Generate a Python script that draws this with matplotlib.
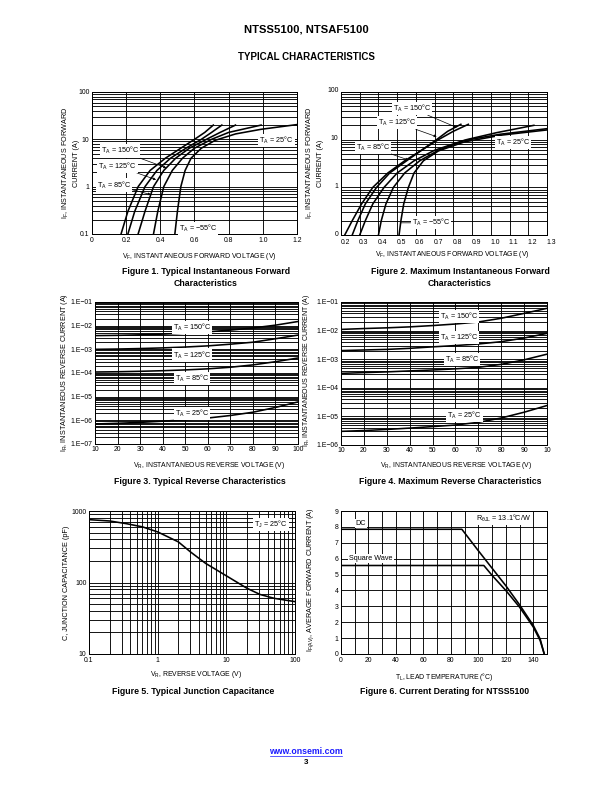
import matplotlib
matplotlib.use('Agg')
import matplotlib.pyplot as plt
from matplotlib.ticker import FixedLocator, FixedFormatter, LogLocator, NullFormatter, MultipleLocator
from matplotlib.lines import Line2D
from matplotlib.transforms import ScaledTranslation

plt.rcParams['font.family'] = ['Liberation Sans', 'DejaVu Sans']
plt.rcParams['mathtext.fontset'] = 'custom'
plt.rcParams['mathtext.rm'] = 'Liberation Sans'
plt.rcParams['mathtext.it'] = 'Liberation Sans:italic'
plt.rcParams['mathtext.bf'] = 'Liberation Sans:bold'
plt.rcParams['mathtext.default'] = 'regular'

# ---------------- data ----------------
# Figure 1: typical forward (V, A)
f1_i = [0.1, 0.3, 1.0, 2.2, 4.0, 6.5, 10, 14, 20]
f1_v150 = [0.17, 0.21, 0.27, 0.34, 0.43, 0.52, 0.60, 0.66, 0.71]
f1_v125 = [0.21, 0.25, 0.31, 0.38, 0.46, 0.55, 0.64, 0.70, 0.76]
f1_v85 = [0.27, 0.31, 0.36, 0.42, 0.49, 0.57, 0.67, 0.75, 0.84]
f1_v25 = [0.36, 0.385, 0.42, 0.47, 0.53, 0.60, 0.70, 0.80, 0.99]
f1_i_m55 = [0.1, 0.3, 1.0, 2.2, 4.0, 6.5, 9.5, 13, 16.3, 20.5]
f1_v_m55 = [0.485, 0.50, 0.52, 0.545, 0.58, 0.64, 0.72, 0.84, 0.99, 1.2]

# Figure 2: maximum forward
f2_i_hi = [0.1, 0.2, 0.45, 1.0, 2.0, 3.6, 6.0, 10, 15, 21]
f2_v150 = [0.22, 0.26, 0.31, 0.37, 0.45, 0.54, 0.63, 0.72, 0.80, 0.88]
f2_v125 = [0.26, 0.29, 0.33, 0.39, 0.46, 0.55, 0.63, 0.71, 0.77, 0.84]
f2_i85 = [0.1, 0.2, 0.45, 1.0, 2.0, 3.6, 6.0, 9.5, 13, 17]
f2_v85 = [0.30, 0.33, 0.37, 0.43, 0.50, 0.59, 0.70, 0.85, 1.05, 1.30]
f2_i25 = [0.1, 0.2, 0.45, 1.0, 2.0, 3.6, 6.0, 10, 14, 20]
f2_v25 = [0.40, 0.415, 0.44, 0.48, 0.54, 0.62, 0.72, 0.87, 1.03, 1.23]
f2_i_m55 = [0.1, 0.2, 0.45, 1.0, 2.0, 3.6, 5.8, 9.0, 12.5, 16]
f2_v_m55 = [0.51, 0.52, 0.535, 0.56, 0.59, 0.64, 0.72, 0.86, 1.06, 1.30]

# Figures 3 & 4: reverse current vs reverse voltage
vr = [10, 20, 30, 40, 50, 60, 70, 80, 90, 100]
f3_150 = [3.8e-3, 3.9e-3, 4.1e-3, 4.4e-3, 4.8e-3, 5.5e-3, 6.5e-3, 8.0e-3, 1.05e-2, 1.5e-2]
f3_125 = [1.0e-3, 1.03e-3, 1.08e-3, 1.15e-3, 1.25e-3, 1.4e-3, 1.65e-3, 2.0e-3, 2.8e-3, 4.0e-3]
f3_85 = [1.1e-4, 1.13e-4, 1.18e-4, 1.25e-4, 1.35e-4, 1.5e-4, 1.75e-4, 2.2e-4, 3.0e-4, 4.3e-4]
f3_25 = [7e-7, 7.5e-7, 8.2e-7, 9.2e-7, 1.05e-6, 1.25e-6, 1.6e-6, 2.2e-6, 3.5e-6, 6e-6]

f4_150 = [1.1e-2, 1.18e-2, 1.25e-2, 1.35e-2, 1.5e-2, 1.7e-2, 2.0e-2, 2.7e-2, 4.0e-2, 6.0e-2]
f4_125 = [2.0e-3, 2.1e-3, 2.2e-3, 2.4e-3, 2.7e-3, 3.0e-3, 3.4e-3, 4.1e-3, 5.5e-3, 8.0e-3]
f4_85 = [3.2e-4, 3.4e-4, 3.6e-4, 3.9e-4, 4.2e-4, 4.6e-4, 5.2e-4, 6.6e-4, 9.5e-4, 1.5e-3]
f4_25 = [3.0e-6, 3.2e-6, 3.5e-6, 3.9e-6, 4.4e-6, 5.0e-6, 6.2e-6, 8.8e-6, 1.4e-5, 2.4e-5]

# Figure 5: junction capacitance
f5_v = [0.1, 0.2, 0.35, 0.6, 1.0, 2.0, 3.0, 5.0, 7.2, 10, 20, 31, 50, 100]
f5_c = [757, 725, 665, 600, 510, 370, 268, 185, 150, 124, 83, 68, 60, 54]

# Figure 6: current derating
f6_dc_t = [0, 88, 100, 110, 120, 130, 140, 145, 148]
f6_dc_i = [7.85, 7.85, 6.5, 5.4, 4.3, 3.1, 1.8, 0.95, 0]
f6_sq_t = [0, 104, 110, 120, 130, 140, 145, 148]
f6_sq_i = [5.57, 5.57, 4.95, 4.0, 2.95, 1.7, 0.85, 0]

# ---------------- layout helpers ----------------
W, H = 612, 792
fig = plt.figure(figsize=(W / 72, H / 72), dpi=72)
FS_TICK = 6.9
FS_LBL = 7.3
FS_XL = 6.9
FS_YL = 7.3
FS_CAP = 8.8
LW_GRID = 0.9
LW_CURVE = 1.6
WHITE = dict(facecolor='white', edgecolor='none', pad=1.0)
ARROW = dict(arrowstyle='-|>', color='black', lw=0.7, mutation_scale=5, shrinkA=0, shrinkB=0)


def make_axes(x0, y0, x1, y1):
    ax = fig.add_axes([x0 / W, 1 - y1 / H, (x1 - x0) / W, (y1 - y0) / H])
    for s in ax.spines.values():
        s.set_linewidth(1.0)
        s.set_color('black')
    ax.tick_params(which='both', length=0, labelsize=FS_TICK, pad=2.5, colors='black')
    return ax


def ftext(x, y, s, **kw):
    kw.setdefault('ha', 'center')
    kw.setdefault('va', 'center')
    fig.text(x / W, 1 - y / H, s, **kw)


def log_y_grid(ax):
    ax.set_yscale('log')
    ax.yaxis.set_minor_locator(LogLocator(base=10, subs=range(2, 10), numticks=20))
    ax.yaxis.set_minor_formatter(NullFormatter())
    ax.grid(True, which='both', axis='y', color='black', lw=LW_GRID)


def label(ax, x, y, s, xy=None, line=False):
    if xy is None:
        ax.text(x, y, s, fontsize=FS_LBL, ha='center', va='center', bbox=WHITE)
    else:
        props = dict(arrowstyle='-', color='black', lw=0.7, shrinkA=0, shrinkB=0) if line else ARROW
        ax.annotate(s, xy=xy, xytext=(x, y), fontsize=FS_LBL, ha='center', va='center',
                    bbox=WHITE, arrowprops=props)


# ---------------- titles ----------------
ftext(306, 30, 'NTSS5100, NTSAF5100', fontsize=11.2, fontweight='bold')
ftext(306, 57, 'TYPICAL CHARACTERISTICS', fontsize=9.8, fontweight='bold')

# ---------------- Figure 1 ----------------
ax1 = make_axes(92, 92, 297, 234)
log_y_grid(ax1)
ax1.set_xlim(0, 1.2)
ax1.set_ylim(0.1, 100)
ax1.xaxis.set_major_locator(FixedLocator([0, 0.2, 0.4, 0.6, 0.8, 1.0, 1.2]))
ax1.xaxis.set_major_formatter(FixedFormatter(['0', '0.2', '0.4', '0.6', '0.8', '1.0', '1.2']))
ax1.yaxis.set_major_locator(FixedLocator([0.1, 1, 10, 100]))
ax1.yaxis.set_major_formatter(FixedFormatter(['0.1', '1', '10', '100']))
ax1.grid(True, which='major', axis='x', color='black', lw=LW_GRID)
for v in (f1_v150, f1_v125, f1_v85, f1_v25):
    ax1.plot(v, f1_i, color='black', lw=LW_CURVE)
ax1.plot(f1_v_m55, f1_i_m55, color='black', lw=LW_CURVE)
label(ax1, 0.165, 5.7, 'T$_A$ = 150°C', xy=(0.435, 2.5))
label(ax1, 0.15, 2.73, 'T$_A$ = 125°C', xy=(0.375, 1.4))
label(ax1, 0.13, 1.08, 'T$_A$ = 85°C', xy=(0.345, 0.68))
label(ax1, 1.08, 9.6, 'T$_A$ = 25°C')
label(ax1, 0.62, 0.133, 'T$_A$ = −55°C')
ftext(199, 257, 'V$_F$, INSTANTANEOUS FORWARD VOLTAGE (V)', fontsize=FS_XL)
ftext(66, 163, 'I$_F$, INSTANTANEOUS FORWARD', fontsize=FS_YL, rotation=90)
ftext(77, 163, 'CURRENT (A)', fontsize=FS_YL, rotation=90)
ftext(206, 272, 'Figure 1. Typical Instantaneous Forward', fontsize=FS_CAP, fontweight='bold')
ftext(206, 284, 'Characteristics', fontsize=FS_CAP, fontweight='bold')

# ---------------- Figure 2 ----------------
ax2 = make_axes(341, 92, 547, 235)
log_y_grid(ax2)
ax2.set_xlim(0.2, 1.3)
ax2.set_ylim(0.1, 100)
x2t = [0.2, 0.3, 0.4, 0.5, 0.6, 0.7, 0.8, 0.9, 1.0, 1.1, 1.2, 1.3]
ax2.xaxis.set_major_locator(FixedLocator(x2t))
ax2.xaxis.set_major_formatter(FixedFormatter(['0.2', '0.3', '0.4', '0.5', '0.6', '0.7', '0.8', '0.9',
                                              '1.0', '1.1', '1.2', '1.3']))
ax2.yaxis.set_major_locator(FixedLocator([0.1, 1, 10, 100]))
ax2.yaxis.set_major_formatter(FixedFormatter(['0', '1', '10', '100']))
ax2.grid(True, which='major', axis='x', color='black', lw=LW_GRID)
ax2.tick_params(axis='x', pad=4)
for lbl in ax2.get_xticklabels():
    lbl.set_transform(lbl.get_transform() + ScaledTranslation(4 / 72, 0, fig.dpi_scale_trans))
for lbl in ax2.get_yticklabels():
    lbl.set_transform(lbl.get_transform() + ScaledTranslation(0, 2 / 72, fig.dpi_scale_trans))
ax2.plot(f2_v150, f2_i_hi, color='black', lw=LW_CURVE)
ax2.plot(f2_v125, f2_i_hi, color='black', lw=LW_CURVE)
ax2.plot(f2_v85, f2_i85, color='black', lw=LW_CURVE)
ax2.plot(f2_v25, f2_i25, color='black', lw=LW_CURVE)
ax2.plot(f2_v_m55, f2_i_m55, color='black', lw=LW_CURVE)
label(ax2, 0.58, 45, 'T$_A$ = 150°C', xy=(0.818, 18.0))
label(ax2, 0.50, 22.7, 'T$_A$ = 125°C', xy=(0.711, 11.5))
label(ax2, 0.37, 6.8, 'T$_A$ = 85°C', xy=(0.56, 3.75))
label(ax2, 1.12, 8.7, 'T$_A$ = 25°C')
label(ax2, 0.68, 0.18, 'T$_A$ = −55°C', xy=(0.52, 0.18), line=True)
ftext(452, 255, 'V$_F$, INSTANTANEOUS FORWARD VOLTAGE (V)', fontsize=FS_XL)
ftext(310, 163, 'I$_F$, INSTANTANEOUS FORWARD', fontsize=FS_YL, rotation=90)
ftext(321, 163, 'CURRENT (A)', fontsize=FS_YL, rotation=90)
ftext(460, 272, 'Figure 2. Maximum Instantaneous Forward', fontsize=FS_CAP, fontweight='bold')
ftext(460, 284, 'Characteristics', fontsize=FS_CAP, fontweight='bold')

# ---------------- Figure 3 ----------------
ax3 = make_axes(95, 302, 298, 444)
log_y_grid(ax3)
ax3.set_xlim(10, 100)
ax3.set_ylim(1e-7, 1e-1)
ax3.xaxis.set_major_locator(FixedLocator(vr))
ax3.xaxis.set_major_formatter(FixedFormatter([str(v) for v in vr]))
ax3.yaxis.set_major_locator(FixedLocator([1e-7, 1e-6, 1e-5, 1e-4, 1e-3, 1e-2, 1e-1]))
ax3.yaxis.set_major_formatter(FixedFormatter(['1.E−07', '1.E−06', '1.E−05', '1.E−04', '1.E−03',
                                              '1.E−02', '1.E−01']))
ax3.grid(True, which='major', axis='x', color='black', lw=LW_GRID)
for s in (f3_150, f3_125, f3_85, f3_25):
    ax3.plot(vr, s, color='black', lw=LW_CURVE)
label(ax3, 53, 8.5e-3, 'T$_A$ = 150°C')
label(ax3, 53, 5.8e-4, 'T$_A$ = 125°C')
label(ax3, 53, 6.0e-5, 'T$_A$ = 85°C')
label(ax3, 53, 2.0e-6, 'T$_A$ = 25°C')
ftext(209, 466, 'V$_R$, INSTANTANEOUS REVERSE VOLTAGE (V)', fontsize=FS_XL)
ftext(64, 372, 'I$_R$, INSTANTANEOUS REVERSE CURRENT (A)', fontsize=FS_YL, rotation=90)
ftext(200, 482, 'Figure 3. Typical Reverse Characteristics', fontsize=FS_CAP, fontweight='bold')

# ---------------- Figure 4 ----------------
ax4 = make_axes(341, 302, 547, 445)
log_y_grid(ax4)
ax4.set_xlim(10, 100)
ax4.set_ylim(1e-6, 1e-1)
ax4.xaxis.set_major_locator(FixedLocator(vr))
ax4.xaxis.set_major_formatter(FixedFormatter(['10', '20', '30', '40', '50', '60', '70', '80', '90', '10']))
ax4.yaxis.set_major_locator(FixedLocator([1e-6, 1e-5, 1e-4, 1e-3, 1e-2, 1e-1]))
ax4.yaxis.set_major_formatter(FixedFormatter(['1.E−06', '1.E−05', '1.E−04', '1.E−03', '1.E−02', '1.E−01']))
ax4.grid(True, which='major', axis='x', color='black', lw=LW_GRID)
for s in (f4_150, f4_125, f4_85, f4_25):
    ax4.plot(vr, s, color='black', lw=LW_CURVE)
label(ax4, 61.5, 3.1e-2, 'T$_A$ = 150°C')
label(ax4, 61.5, 5.6e-3, 'T$_A$ = 125°C')
label(ax4, 63, 1.0e-3, 'T$_A$ = 85°C')
label(ax4, 64, 1.1e-5, 'T$_A$ = 25°C')
ftext(456, 466, 'V$_R$, INSTANTANEOUS REVERSE VOLTAGE (V)', fontsize=FS_XL)
ftext(307, 370, 'I$_R$, INSTANTANEOUS REVERSE CURRENT (A)', fontsize=7.0, rotation=90)
ftext(450, 482, 'Figure 4. Maximum Reverse Characteristics', fontsize=FS_CAP, fontweight='bold')

# ---------------- Figure 5 ----------------
ax5 = make_axes(89, 511, 295, 654)
log_y_grid(ax5)
ax5.set_xscale('log')
ax5.set_xlim(0.1, 100)
ax5.set_ylim(10, 1000)
ax5.xaxis.set_major_locator(FixedLocator([0.1, 1, 10, 100]))
ax5.xaxis.set_major_formatter(FixedFormatter(['0.1', '1', '10', '100']))
ax5.xaxis.set_minor_locator(LogLocator(base=10, subs=range(2, 10), numticks=20))
ax5.xaxis.set_minor_formatter(NullFormatter())
ax5.yaxis.set_major_locator(FixedLocator([10, 100, 1000]))
ax5.yaxis.set_major_formatter(FixedFormatter(['10', '100', '1000']))
ax5.grid(True, which='both', axis='x', color='black', lw=LW_GRID)
ax5.plot(f5_v, f5_c, color='black', lw=LW_CURVE)
label(ax5, 45, 640, 'T$_J$ = 25°C')
ftext(196, 675, 'V$_R$, REVERSE VOLTAGE (V)', fontsize=FS_XL)
ftext(66, 583, 'C, JUNCTION CAPACITANCE (pF)', fontsize=FS_YL, rotation=90)
ftext(193, 692, 'Figure 5. Typical Junction Capacitance', fontsize=FS_CAP, fontweight='bold')

# ---------------- Figure 6 ----------------
ax6 = make_axes(341, 511, 547, 654)
ax6.set_xlim(0, 150)
ax6.set_ylim(0, 9)
ax6.xaxis.set_major_locator(FixedLocator([0, 20, 40, 60, 80, 100, 120, 140]))
ax6.xaxis.set_major_formatter(FixedFormatter(['0', '20', '40', '60', '80', '100', '120', '140']))
ax6.xaxis.set_minor_locator(MultipleLocator(10))
ax6.yaxis.set_major_locator(MultipleLocator(1))
ax6.grid(True, which='both', axis='both', color='black', lw=LW_GRID)
ax6.plot(f6_dc_t, f6_dc_i, color='black', lw=LW_CURVE)
ax6.plot(f6_sq_t, f6_sq_i, color='black', lw=LW_CURVE)
label(ax6, 14.5, 8.2, 'DC')
label(ax6, 22, 6.0, 'Square Wave')
label(ax6, 118, 8.55, 'R$_{θJL}$ = 13.1°C/W')
ftext(444, 677, 'T$_L$, LEAD TEMPERATURE (°C)', fontsize=FS_XL)
ftext(311, 580, 'I$_{F(AV)}$, AVERAGE FORWARD CURRENT (A)', fontsize=FS_YL, rotation=90)
ftext(445, 692, 'Figure 6. Current Derating for NTSS5100', fontsize=FS_CAP, fontweight='bold')

# ---------------- footer ----------------
ftext(306, 751, 'www.onsemi.com', fontsize=8.8, fontweight='bold', color='#1a1aff')
fig.add_artist(Line2D([270 / W, 342 / W], [1 - 756 / H, 1 - 756 / H], color='#1a1aff', lw=0.7))
ftext(306, 762, '3', fontsize=8, fontweight='bold')

fig.savefig('out.png', dpi=72)
